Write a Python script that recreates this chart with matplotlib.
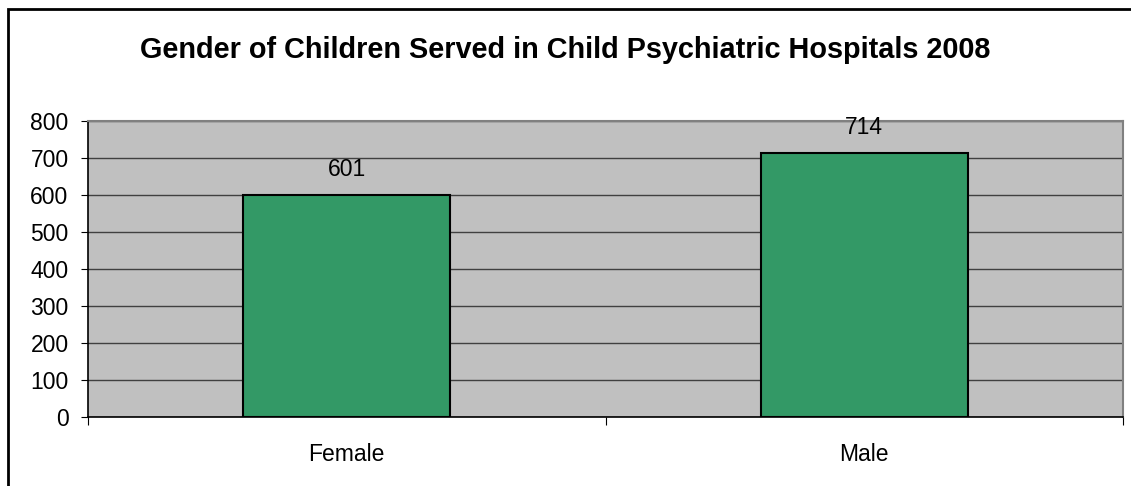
import matplotlib
matplotlib.use("Agg")
import matplotlib.pyplot as plt
from matplotlib.patches import Rectangle

categories = ["Female", "Male"]
values = [601, 714]
yticks = [0, 100, 200, 300, 400, 500, 600, 700, 800]
title = "Gender of Children Served in Child Psychiatric Hospitals 2008"

plt.rcParams['font.family'] = ['Liberation Sans', 'DejaVu Sans']

fig = plt.figure(figsize=(11.31, 4.86), dpi=100)
fig.patches.append(Rectangle((8/1131, -0.1), 1.2, 1.1 - 9/486, transform=fig.transFigure,
                             fill=False, edgecolor='black', linewidth=2.0))

ax = fig.add_axes([88/1131, (486-417)/486, (1123-88)/1131, (417-121)/486])
ax.set_facecolor('#C0C0C0')
x = list(range(len(categories)))
bars = ax.bar(x, values, width=0.4, color='#339966', edgecolor='black', linewidth=1.5, zorder=3)
ax.set_xlim(-0.5, len(categories) - 0.5)
ax.set_ylim(0, 800)
ax.set_yticks(yticks)
ax.set_yticklabels([str(t) for t in yticks], fontsize=16.5)
ax.yaxis.grid(True, color='#404040', linewidth=1.0, zorder=1)
ax.set_axisbelow(True)
ax.set_xticks([-0.5, 0.5, 1.5])
ax.set_xticklabels([])
ax.set_xticks(x, minor=True)
ax.set_xticklabels(categories, minor=True, fontsize=16.5)
ax.tick_params(axis='x', which='minor', length=0, pad=18.5)
ax.tick_params(axis='x', which='major', length=6, direction='out', color='black')
ax.tick_params(axis='y', length=5, direction='out', pad=9)
for s in ['top', 'right']:
    ax.spines[s].set_color('#808080')
    ax.spines[s].set_linewidth(1.5)
for s in ['left', 'bottom']:
    ax.spines[s].set_color('black')
    ax.spines[s].set_linewidth(1.2)

for xi, v in zip(x, values):
    ax.annotate(str(v), (xi, v), xytext=(0, 18), textcoords='offset points',
                ha='center', va='center', fontsize=16.5)

fig.text(0.5, 1 - 50/486, title, ha='center', va='center', fontsize=20.8, fontweight='bold')

fig.savefig("out.png", dpi=100, facecolor='white')
